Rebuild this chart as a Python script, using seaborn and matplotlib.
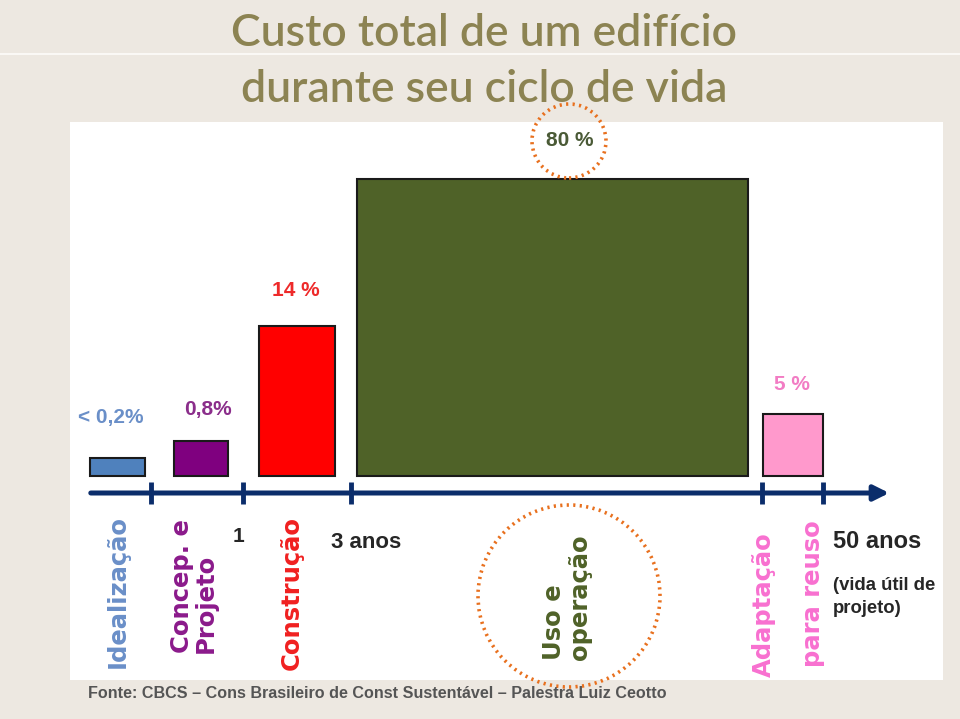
import matplotlib
matplotlib.use("Agg")
import matplotlib.pyplot as plt
from matplotlib.patches import Ellipse
import seaborn as sns

# stages of the building life cycle (schematic axis, left -> right)
stages = ["Idealização", "Concep. e\nProjeto", "Construção", "Uso e\noperação", "Adaptação\npara reuso"]
pct_labels = ["< 0,2%", "0,8%", "14 %", "80 %", "5 %"]
stage_start = [90, 174, 259, 357, 763]
stage_end = [145, 228, 335, 748, 823]
bar_height = [18, 35, 150, 297, 62]
bar_colors = ["#4F81BD", "#7F007F", "#FF0000", "#4F6228", "#FF99CC"]
label_colors = ["#6A8FC8", "#8B2E8B", "#EE2A2A", "#4A5A36", "#F27CC4"]
stage_text_colors = ["#6A8FC8", "#8B1A8B", "#F02020", "#4F6228", "#F870D0"]
tick_pos = [151, 243, 351, 762, 823]
time_labels = ["1", "3 anos", "50 anos"]

# where the percent labels sit
label_x = [111, 208, 296, 570, 792]
label_y = [58, 66, 186, 335, 92]

sns.set_style("white")
plt.rcParams["font.family"] = ["Liberation Sans", "DejaVu Sans"]

fig = plt.figure(figsize=(9.6, 7.19), dpi=100)
fig.patch.set_facecolor("#EDE8E1")
fig.add_artist(plt.Line2D([0, 1], [1 - 54 / 719] * 2, color="#FAF8F5", lw=1.5))

ax = fig.add_axes([70 / 960, 1 - 680 / 719, 873 / 960, 558 / 719])
ax.set_facecolor("white")
ax.set_xlim(70, 943)
ax.set_ylim(-204, 354)
ax.set_xticks([])
ax.set_yticks([])
sns.despine(ax=ax, left=True, bottom=True)

widths = [e - s for s, e in zip(stage_start, stage_end)]
ax.bar(stage_start, bar_height, width=widths, align="edge", color=bar_colors,
       edgecolor="#1A1A1A", linewidth=1.5)

# percent labels above bars
for x, y, t, c in zip(label_x, label_y, pct_labels, label_colors):
    ax.text(x, y, t, color=c, ha="center", va="center", fontsize=15, fontweight="bold", zorder=6)

# time axis arrow
ax.annotate("", xy=(892, -17), xytext=(88, -17),
            arrowprops=dict(arrowstyle="-|>,head_length=0.9,head_width=0.45",
                            color="#0B2D6B", lw=3.6))
for t in tick_pos:
    ax.plot([t, t], [-6, -28], color="#0B2D6B", lw=3.5, solid_capstyle="butt")

# vertical stage names
def vtext(x, y, s, c, **kw):
    ax.text(x, y, s, rotation=90, color=c, fontsize=17.5, fontweight="bold",
            ha="center", va="bottom", family="DejaVu Sans", **kw)

vtext(118, -192, stages[0], stage_text_colors[0])
vtext(194, -177, stages[1], stage_text_colors[1], multialignment="left", linespacing=0.95)
vtext(292, -194, stages[2], stage_text_colors[2])
vtext(567, -184, stages[3], stage_text_colors[3], multialignment="left", linespacing=1.1)
ad, reuso = stages[4].split("\n")
vtext(764, -201, ad, stage_text_colors[4])
vtext(813, -191, reuso, stage_text_colors[4])

# time marks
ax.text(239, -61, time_labels[0], fontsize=15, fontweight="bold", ha="center", va="center")
ax.text(331, -66, time_labels[1], fontsize=16, fontweight="bold", ha="left", va="center")
ax.text(833, -66, time_labels[2], fontsize=17, fontweight="bold", ha="left", va="center")
ax.text(833, -121, "(vida útil de\nprojeto)", fontsize=13.3, fontweight="bold", ha="left",
        va="center", linespacing=1.45)

# dotted highlight circles
for cx, cy, r in [(569, 476 - 141, 37), (569, 476 - 596, 91)]:
    ax.add_patch(Ellipse((cx, cy), 2 * r, 2 * r, fill=False, edgecolor="#E8701E",
                         lw=2.6, linestyle=(0, (0.6, 1.2)), clip_on=False, zorder=5))

fig.text(484 / 960, 1 - 33 / 719, "Custo total de um edifício", color="#8C8352",
         fontsize=32, ha="center", va="center", family="Lato", fontweight="semibold")
fig.text(484 / 960, 1 - 90 / 719, "durante seu ciclo de vida", color="#8C8352",
         fontsize=32, ha="center", va="center", family="Lato", fontweight="semibold")
fig.text(88 / 960, 1 - 693 / 719, "Fonte: CBCS – Cons Brasileiro de Const Sustentável – Palestra Luiz Ceotto",
         color="#555555", fontsize=11.6, fontweight="bold", ha="left", va="center")

fig.savefig("out.png", dpi=100, facecolor=fig.get_facecolor())
